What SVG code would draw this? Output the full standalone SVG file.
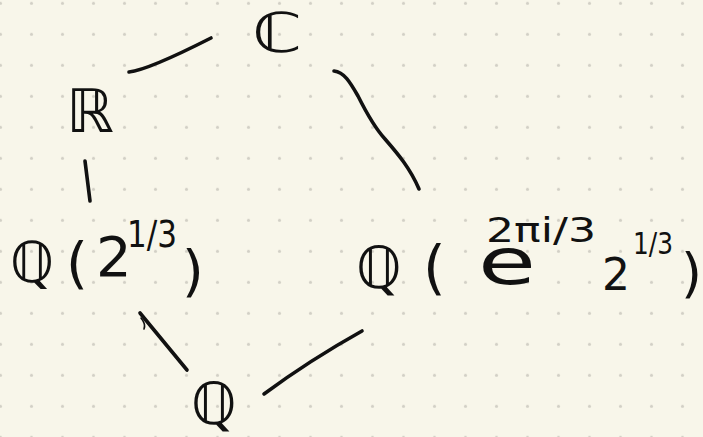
<svg xmlns="http://www.w3.org/2000/svg" width="703" height="437" viewBox="0 0 703 437">
  <defs>
    <!-- dotted notebook paper -->
    <pattern id="dots" x="-15" y="-12.2" width="31" height="31" patternUnits="userSpaceOnUse">
      <circle cx="15.5" cy="15.5" r="1.6" fill="#d2d0c6"/>
    </pattern>
    <style>
      .lbl { font-family: "DejaVu Sans", "Liberation Sans", sans-serif; fill: #111; }
      .edge { fill: none; stroke: #111; stroke-width: 3.6; stroke-linecap: round; stroke-linejoin: round; }
    </style>
  </defs>

  <rect width="703" height="437" fill="#f8f6ea"/>
  <rect width="703" height="437" fill="url(#dots)"/>

  <!-- field lattice edges -->
  <g id="edges">
    <path class="edge" d="M129,72 Q148,70 211,38"/>
    <path class="edge" d="M334,71 C344,72 350,82 358,96 C366,112 374,127 385,139 C398,154 410,168 419,189"/>
    <path class="edge" d="M85,161 L90,201"/>
    <path class="edge" d="M140,313 L187,370"/>
    <path class="edge" d="M141,318 Q146,324 144,329" style="stroke-width:1.6"/>
    <path class="edge" d="M362,331 Q310,360 264,394"/>
  </g>

  <!-- complex numbers -->
  <g id="node-C">
    <text class="lbl" x="252" y="52" font-size="55" textLength="50" lengthAdjust="spacingAndGlyphs">ℂ</text>
  </g>

  <!-- real numbers -->
  <g id="node-R">
    <text class="lbl" x="90" y="132" font-size="60" text-anchor="middle">ℝ</text>
  </g>

  <!-- Q adjoin cube root of 2 -->
  <g id="node-Q-cbrt2">
    <text class="lbl" font-size="56">
      <tspan x="10" y="282">ℚ</tspan><tspan x="66" y="282">(</tspan><tspan x="96" y="276">2</tspan><tspan x="127" y="247" font-size="38" textLength="50" lengthAdjust="spacingAndGlyphs">1/3</tspan><tspan x="182" y="290">)</tspan>
    </text>
  </g>

  <!-- splitting field of x^3 - 2 -->
  <g id="node-Q-split">
    <text class="lbl" font-size="58">
      <tspan x="356" y="288">ℚ</tspan><tspan x="423" y="288">(</tspan><tspan x="478" y="284" font-size="64" textLength="58" lengthAdjust="spacingAndGlyphs">e</tspan><tspan x="486" y="242" font-size="34" textLength="110" lengthAdjust="spacingAndGlyphs">2πi/3</tspan><tspan x="602" y="290" font-size="44">2</tspan><tspan x="633" y="254" font-size="30" textLength="40" lengthAdjust="spacingAndGlyphs">1/3</tspan><tspan x="681" y="292" font-size="54">)</tspan>
    </text>
  </g>

  <!-- rationals -->
  <g id="node-Q">
    <text class="lbl" x="191" y="424" font-size="58">ℚ</text>
  </g>
</svg>
